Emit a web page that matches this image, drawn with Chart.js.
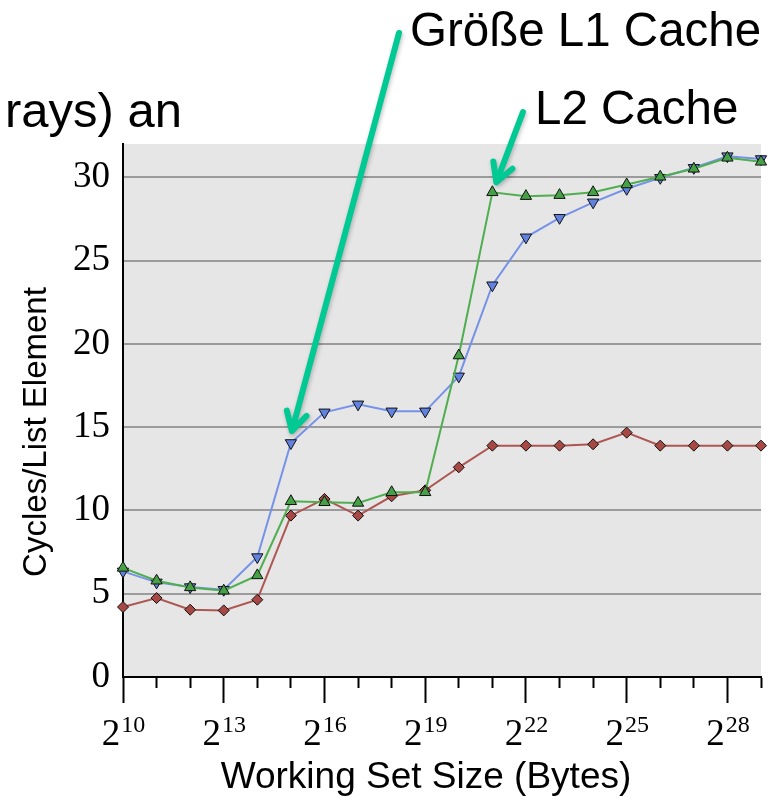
<!DOCTYPE html>
<html>
<head>
<meta charset="utf-8">
<script src="https://cdn.jsdelivr.net/npm/chart.js@4.4.1/dist/chart.umd.min.js"></script>
<style>
  body { margin: 0; background: #fff; }
  #wrap { width: 771px; height: 797px; }
</style>
</head>
<body>
<div id="wrap"><canvas id="chart"></canvas></div>
<script>
// exponent n stands for a working set of 2^n bytes
const exponents = [10, 11, 12, 13, 14, 15, 16, 17, 18, 19, 20, 21, 22, 23, 24, 25, 26, 27, 28, 29];
const labelledExps = [10, 13, 16, 19, 22, 25, 28];
const yTicks = [0, 5, 10, 15, 20, 25, 30];

const greenVals = [6.55, 5.78, 5.38, 5.18, 6.1, 10.55, 10.49, 10.45, 11.09, 11.09, 19.3, 29.1, 28.87, 28.93, 29.1, 29.57, 30.03, 30.51, 31.17, 30.93];
const blueVals = [6.34, 5.68, 5.4, 5.24, 7.2, 14.05, 15.89, 16.37, 15.95, 15.95, 18.05, 23.52, 26.4, 27.57, 28.5, 29.31, 29.97, 30.57, 31.27, 31.1];
const redVals = [4.2, 4.74, 4.04, 4.0, 4.64, 9.69, 10.69, 9.69, 10.85, 11.21, 12.59, 13.89, 13.89, 13.89, 13.97, 14.67, 13.89, 13.89, 13.89, 13.89];

const toPts = vals => vals.map((v, i) => ({ x: exponents[i], y: v }));

function drawArrow(ctx, tail, tip) {
    const ang = Math.atan2(tail.y - tip.y, tail.x - tip.x);
    const wing = 21, spread = Math.PI / 6.2;
    ctx.save();
    ctx.strokeStyle = '#00c994';
    ctx.lineWidth = 6;
    ctx.lineCap = 'round';
    ctx.lineJoin = 'round';
    ctx.shadowColor = 'rgba(0,0,0,0.25)';
    ctx.shadowBlur = 4;
    ctx.shadowOffsetX = 1;
    ctx.shadowOffsetY = 2;
    ctx.beginPath();
    ctx.moveTo(tail.x, tail.y);
    ctx.lineTo(tip.x, tip.y);
    ctx.moveTo(tip.x + Math.cos(ang - spread) * wing, tip.y + Math.sin(ang - spread) * wing);
    ctx.lineTo(tip.x, tip.y);
    ctx.lineTo(tip.x + Math.cos(ang + spread) * wing, tip.y + Math.sin(ang + spread) * wing);
    ctx.stroke();
    ctx.restore();
}

const decor = {
    id: 'decor',
    beforeDraw(chart) {
        const a = chart.chartArea, ctx = chart.ctx;
        ctx.save();
        ctx.fillStyle = '#e6e6e6';
        ctx.fillRect(a.left, a.top, a.right - a.left, a.bottom - a.top);
        ctx.restore();
    },
    afterDraw(chart) {
        const ctx = chart.ctx, x = chart.scales.x, y = chart.scales.y;
        ctx.save();
        ctx.fillStyle = '#000';

        // x tick labels 2^n
        labelledExps.forEach(n => {
            const px = x.getPixelForValue(n);
            ctx.font = '37px "Liberation Serif"';
            const w1 = ctx.measureText('2').width;
            ctx.font = '24px "Liberation Serif"';
            const w2 = ctx.measureText(String(n)).width;
            const x0 = px - (w1 + w2) / 2;
            ctx.textAlign = 'left';
            ctx.textBaseline = 'alphabetic';
            ctx.font = '37px "Liberation Serif"';
            ctx.fillText('2', x0, 745);
            ctx.font = '24px "Liberation Serif"';
            ctx.fillText(String(n), x0 + w1 + 1, 732);
        });

        // axis titles
        ctx.font = '37px "Liberation Sans", Arial, sans-serif';
        ctx.textAlign = 'center';
        ctx.fillText('Working Set Size (Bytes)', 426, 788);
        ctx.save();
        ctx.translate(46, 432);
        ctx.rotate(-Math.PI / 2);
        ctx.font = '33px "Liberation Sans", Arial, sans-serif';
        ctx.fillText('Cycles/List Element', 0, 0);
        ctx.restore();

        // slide annotations
        ctx.font = '47.5px "Liberation Sans", Arial, sans-serif';
        ctx.textAlign = 'left';
        ctx.fillText('Größe L1 Cache', 410, 46);
        ctx.fillText('L2 Cache', 535, 124);
        ctx.textAlign = 'right';
        ctx.font = '49px "Liberation Sans", Arial, sans-serif';
        ctx.fillText('rays) an', 182, 127);
        ctx.restore();

        drawArrow(ctx, { x: 399, y: 33 },
            { x: x.getPixelForValue(15) + 1, y: y.getPixelForValue(blueVals[5]) - 12 });
        drawArrow(ctx, { x: 523, y: 112 },
            { x: x.getPixelForValue(21) + 4, y: y.getPixelForValue(greenVals[11]) - 10 });
    }
};

function series(vals, line, fill, style, rot) {
    return {
        data: toPts(vals),
        borderColor: line,
        borderWidth: 2,
        backgroundColor: fill,
        pointBackgroundColor: fill,
        pointBorderColor: '#111',
        pointBorderWidth: 1,
        pointStyle: style,
        pointRotation: rot,
        pointRadius: style === 'rectRot' ? 5.5 : 6.5,
        tension: 0,
        clip: false
    };
}

new Chart(document.getElementById('chart'), {
    type: 'line',
    data: {
        datasets: [
            series(greenVals, '#4fae4f', '#46a046', 'triangle', 0),
            series(blueVals, '#7692e8', '#6282e0', 'triangle', 180),
            series(redVals, '#ad5753', '#a84844', 'rectRot', 0)
        ]
    },
    options: {
        responsive: true,
        maintainAspectRatio: false,
        devicePixelRatio: 1,
        animation: false,
        layout: { padding: { top: 144, right: 10, left: 0, bottom: 0 } },
        plugins: { legend: { display: false }, tooltip: { enabled: false } },
        scales: {
            x: {
                type: 'linear',
                min: exponents[0],
                max: exponents[exponents.length - 1],
                afterFit: s => { s.height = 120; },
                ticks: { stepSize: 1, display: false },
                grid: {
                    drawOnChartArea: false,
                    drawTicks: true,
                    tickLength: 26,
                    tickWidth: 2,
                    tickColor: '#000',
                    tickBorderDash: c => (c.tick && labelledExps.includes(c.tick.value)) ? [] : [10, 40]
                },
                border: { color: '#000', width: 2 }
            },
            y: {
                min: yTicks[0],
                max: 32,
                afterFit: s => { s.width = 123; },
                afterBuildTicks: s => { s.ticks = yTicks.map(v => ({ value: v })); },
                ticks: {
                    color: '#000',
                    padding: 13,
                    font: { family: '"Liberation Serif"', size: 37 }
                },
                grid: {
                    drawTicks: false,
                    lineWidth: 2,
                    color: c => (c.tick && c.tick.value === 0) ? 'rgba(0,0,0,0)' : '#9b9b9b'
                },
                border: { color: '#000', width: 2 }
            }
        }
    },
    plugins: [decor]
});
</script>
</body>
</html>
